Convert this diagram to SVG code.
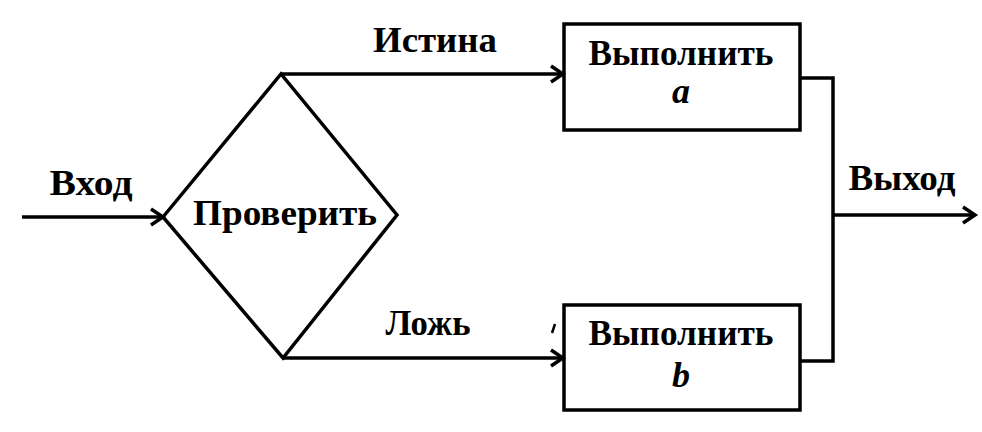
<svg xmlns="http://www.w3.org/2000/svg" width="982" height="432" viewBox="0 0 982 432">
<style>
  .ln{fill:none;stroke:#000;stroke-width:3.5;stroke-linejoin:miter}
  .t{font-family:"Liberation Serif","Times New Roman",serif;font-weight:bold;font-size:36px;fill:#000;text-anchor:middle}
  .i{font-style:italic}
</style>
<defs>
  <marker id="arr" markerUnits="userSpaceOnUse" markerWidth="20" markerHeight="20" viewBox="0 0 20 20" refX="15" refY="10" orient="auto">
    <path d="M3,2 L15,10 L3,18" fill="none" stroke="#000" stroke-width="3.5"/>
  </marker>
</defs>
<rect width="982" height="432" fill="#fff"/>
<g id="connectors">
  <line class="ln" x1="22" y1="217" x2="163" y2="217" marker-end="url(#arr)"/>
  <polyline class="ln" points="281,74 563,74" marker-end="url(#arr)"/>
  <polyline class="ln" points="283,358 563,358" marker-end="url(#arr)"/>
  <polyline class="ln" points="800,78 833,78 833,361 800,361"/>
  <line class="ln" x1="833" y1="215" x2="975" y2="215" marker-end="url(#arr)"/>
  <text class="t" x="91" y="195" textLength="83" lengthAdjust="spacingAndGlyphs">Вход</text>
  <text class="t" x="435" y="52" textLength="124" lengthAdjust="spacingAndGlyphs">Истина</text>
  <text class="t" x="428" y="335" textLength="85" lengthAdjust="spacingAndGlyphs">Ложь</text>
  <text class="t" x="902" y="190" textLength="107" lengthAdjust="spacingAndGlyphs">Выход</text>
</g>
<g id="check">
  <polygon class="ln" points="163,217 281,74 397,215 283,358"/>
  <text class="t" x="285" y="225" textLength="184" lengthAdjust="spacingAndGlyphs">Проверить</text>
</g>
<g id="do-a">
  <rect class="ln" x="564" y="24" width="236" height="106"/>
  <text class="t" x="681" y="65" textLength="185" lengthAdjust="spacingAndGlyphs">Выполнить</text>
  <text class="t i" x="681" y="103">a</text>
</g>
<g id="do-b">
  <rect class="ln" x="564" y="305" width="236" height="105"/>
  <text class="t" x="681" y="345" textLength="185" lengthAdjust="spacingAndGlyphs">Выполнить</text>
  <text class="t i" x="681" y="387">b</text>
</g>
<path d="M555,324 L552,333" stroke="#000" stroke-width="2.5" fill="none"/>
</svg>
